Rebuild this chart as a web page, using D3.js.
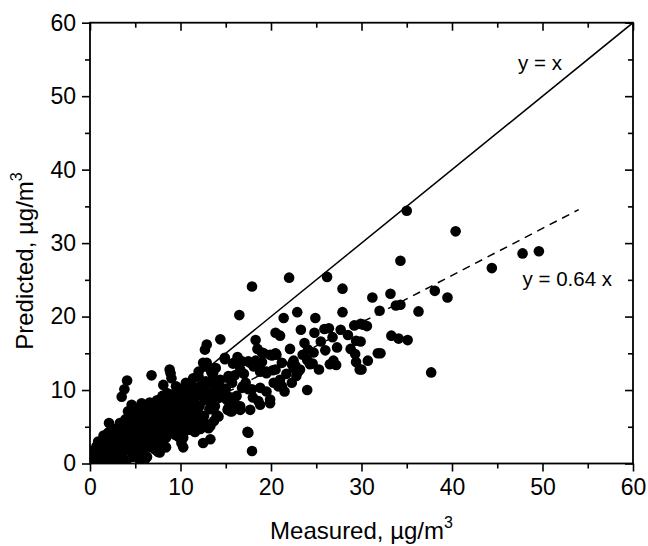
<!DOCTYPE html>
<html>
<head>
<meta charset="utf-8">
<script src="https://cdn.jsdelivr.net/npm/d3@7"></script>
<style>
  body { margin: 0; background: #fff; }
  svg text { font-family: "Liberation Sans", Arial, sans-serif; fill: #000; }
</style>
</head>
<body>
<svg id="chart" width="648" height="546"></svg>
<script>
// measured vs predicted pairs
var measured = [
  0.2,0.4,0.3,0.6,0.8,0.7,1.0,1.0,0.1,
  1.2,1.3,1.4,1.6,1.7,1.8,1.9,1.5,2.0,2.1,
  2.2,2.3,2.4,2.6,2.7,2.8,2.9,3.0,2.5,
  3.1,3.2,3.3,3.4,3.5,3.6,3.7,3.8,3.9,4.0,3.5,3.8,4.1,
  4.1,4.2,4.3,4.4,4.5,4.6,4.7,4.8,4.9,5.0,4.6,
  5.1,5.2,5.3,5.4,5.5,5.6,5.7,5.8,5.9,6.0,5.5,
  6.1,6.1,6.2,6.3,6.4,6.5,6.6,6.6,6.8,6.8,6.9,7.0,
  7.1,7.2,7.3,7.4,7.5,7.6,7.7,7.7,7.8,7.9,8.0,7.7,
  8.1,8.1,8.2,8.3,8.4,8.5,8.6,8.7,8.8,8.9,8.9,9.0,9.0,8.4,
  9.1,9.2,9.3,9.4,9.5,9.6,9.7,9.8,9.9,10.0,10.0,
  10.1,10.1,10.2,10.3,10.3,10.4,10.5,10.5,10.5,10.6,10.7,10.8,11.0,
  11.1,11.2,11.3,11.4,11.5,11.6,11.7,11.8,11.9,12.0,12.0,
  12.2,12.4,12.5,12.5,12.6,12.7,12.7,12.8,12.9,12.9,12.7,13.0,13.1,13.3,13.2,
  13.5,13.6,13.8,13.4,14.0,14.2,14.2,13.9,14.4,14.6,14.7,13.7,13.5,
  14.9,14.9,15.3,15.3,15.7,15.1,15.3,15.7,15.9,15.2,15.0,14.4,14.9,13.3,12.7,13.6,
  16.5,16.8,16.6,16.8,16.6,17.5,17.5,17.7,17.9,17.4,17.5,17.9,17.9,18.1,16.2,15.8,17.7,16.9,16.6,15.5,
  18.3,18.8,18.8,18.6,18.8,19.2,19.9,19.5,19.5,19.9,18.5,18.8,19.5,19.0,19.9,
  20.5,21.0,20.5,20.5,21.4,22.0,22.1,21.2,20.8,21.7,21.5,20.2,21.0,20.3,21.2,20.1,20.6,
  22.9,23.3,22.5,23.0,22.7,23.5,24.0,24.1,23.7,22.3,22.5,23.2,22.8,22.3,
  24.7,24.8,24.9,25.3,25.9,26.0,26.2,26.4,26.5,25.5,24.6,24.0,24.3,
  27.2,26.8,27.7,27.9,27.9,27.3,26.9,
  29.2,29.9,30.6,29.4,29.3,29.4,29.8,30.7,30.2,29.9,30.0,31.2,31.8,32.0,32.1,28.5,28.8,
  33.2,33.8,34.3,36.3,33.3,34.1,35.1,34.3,35.0,38.1,39.5,37.7,40.4,
  44.4,47.8,49.6,
  // extra points filling the dense core
  0.5,1.2,0.9,1.5,2.0,
  2.1,2.4,3.0,3.3,3.0,3.6,2.7,
  4.3,4.0,4.5,5.0,5.2,5.5,5.0,4.8,5.6,5.9,5.3,
  6.3,6.5,6.7,7.0,7.2,7.0,7.5,7.5,6.2,7.9,6.0,
  8.2,8.0,8.5,8.7,9.3,9.0,9.5,8.3,9.7,9.2,
  10.2,10.8,11.0,11.3,10.6,11.5,11.0,11.8,10.4,11.6,
  12.1,12.3,12.6,12.0,13.0,13.3,12.4,13.5,13.8,12.8,
  16.0,17.0,18.3,17.2,16.3,19.0,15.5,16.0,18.0
];
var predicted = [
  0.3,1.0,1.7,0.5,1.5,2.3,0.2,1.0,1.7,
  0.6,1.8,2.8,1.2,3.4,0.4,2.2,0.1,1.6,5.5,
  0.8,3.0,4.0,1.6,2.5,0.3,3.6,1.1,4.6,
  2.0,4.4,5.5,0.6,3.0,1.4,4.9,2.4,6.0,0.3,9.1,10.1,11.3,
  3.6,7.1,1.8,5.2,2.8,8.0,0.9,4.3,6.3,1.6,3.4,
  5.0,7.0,2.6,0.6,3.8,6.0,8.2,1.5,4.6,7.3,2.0,
  0.6,3.0,5.5,0.9,7.9,2.2,8.3,4.4,6.4,12.0,3.4,5.5,
  7.3,1.9,4.5,8.6,1.6,6.0,3.0,4.2,7.8,5.2,9.2,1.5,
  10.7,2.6,4.4,6.8,3.5,8.5,5.6,7.4,12.8,12.3,4.6,9.4,11.6,2.2,
  6.2,8.0,5.0,3.9,7.1,9.8,6.0,3.6,8.6,3.9,5.3,
  2.8,9.5,7.0,2.2,3.5,5.9,10.5,10.1,8.3,4.5,9.0,6.6,7.7,
  4.6,10.6,9.8,11.6,8.3,6.0,5.2,9.2,7.1,10.4,11.8,
  4.7,10.3,13.7,2.8,6.5,5.5,8.6,11.2,13.7,16.2,15.5,9.7,4.8,3.3,7.4,
  11.4,9.8,7.8,12.5,6.6,8.9,6.4,13.0,16.9,10.1,9.4,5.8,12.3,
  14.4,14.2,11.9,11.6,11.0,8.7,7.6,7.1,13.7,7.3,10.2,11.4,9.6,5.1,13.2,12.3,
  20.2,13.9,12.8,10.3,7.3,13.9,10.1,7.3,24.1,4.3,4.2,1.7,10.1,13.2,9.2,13.6,13.7,10.5,7.8,7.1,
  16.8,12.5,10.3,8.5,8.0,15.0,14.8,12.3,9.8,8.7,15.6,12.9,12.5,15.1,8.2,
  17.8,17.4,15.0,12.8,19.8,25.3,15.6,13.7,10.5,12.2,9.8,12.7,11.4,11.0,10.5,14.7,14.8,
  20.6,18.2,14.0,12.5,13.3,14.8,10.0,15.5,16.4,11.0,13.0,12.8,11.9,13.5,
  15.1,17.8,19.8,12.8,18.3,15.4,25.4,18.4,13.5,16.6,13.6,14.1,13.5,
  13.4,17.2,18.2,20.6,23.8,15.8,14.0,
  18.8,19.0,18.7,16.7,14.9,13.8,12.8,14.0,18.9,16.6,12.8,22.6,15.0,20.8,15.0,17.5,15.6,
  23.1,21.5,21.6,20.7,17.4,17.0,16.8,27.6,34.4,23.5,22.6,12.4,31.6,
  26.6,28.6,28.9,
  // extra points filling the dense core
  0.0,2.6,3.0,3.8,4.2,
  2.0,1.2,2.8,3.7,4.8,0.9,4.2,
  2.4,4.8,6.5,3.0,4.2,5.5,6.8,7.6,7.7,2.9,1.0,
  6.8,5.0,3.0,2.5,6.4,8.0,5.0,3.5,4.0,6.5,1.8,
  7.6,5.0,9.6,6.2,7.4,5.8,10.5,9.0,4.7,9.0,
  8.0,9.8,5.5,7.0,11.0,10.0,11.0,8.0,6.8,4.3,
  7.8,9.4,10.8,12.5,11.0,12.9,6.0,8.6,10.6,5.0,
  12.0,12.2,14.0,11.0,14.5,13.8,9.0,8.2,9.0
];

var xTicks = [0, 10, 20, 30, 40, 50, 60];
var yTicks = [0, 10, 20, 30, 40, 50, 60];
var minorTicks = [5, 15, 25, 35, 45, 55];
var slope = 0.64;
var fitEnd = 54;

var svg = d3.select("#chart");
var margin = {left: 90, right: 15, top: 22.7, bottom: 82.5};
var W = 648, H = 546;

var x = d3.scaleLinear().domain([0, 60]).range([margin.left, W - margin.right]);
var y = d3.scaleLinear().domain([0, 60]).range([H - margin.bottom, margin.top]);

var points = measured.map(function(m, i) { return {x: m, y: predicted[i]}; });

// clip so the dots stay inside the frame
svg.append("clipPath").attr("id", "clip")
  .append("rect")
  .attr("x", x(0)).attr("y", y(60))
  .attr("width", x(60) - x(0)).attr("height", y(0) - y(60));

var plot = svg.append("g").attr("clip-path", "url(#clip)");

plot.selectAll("circle")
  .data(points)
  .enter()
  .append("circle")
  .attr("cx", d => x(d.x))
  .attr("cy", d => y(d.y))
  .attr("r", 5.3)
  .attr("fill", "#000");

// y = x
plot.append("line")
  .attr("x1", x(0)).attr("y1", y(0))
  .attr("x2", x(60)).attr("y2", y(60))
  .attr("stroke", "#000").attr("stroke-width", 1.5);

// y = 0.64 x
plot.append("line")
  .attr("x1", x(0)).attr("y1", y(0))
  .attr("x2", x(fitEnd)).attr("y2", y(slope * fitEnd))
  .attr("stroke", "#000").attr("stroke-width", 1.5)
  .attr("stroke-dasharray", "8,6");

// axes
function styleAxis(g, showText) {
  g.select(".domain").remove();
  g.selectAll(".tick line").attr("stroke", "#000").attr("stroke-width", 1.6);
  if (showText) {
    g.selectAll(".tick text").attr("font-size", 23).attr("fill", "#000");
  } else {
    g.selectAll(".tick text").remove();
  }
}

var bottom = H - margin.bottom;

svg.append("g").attr("transform", "translate(0," + bottom + ")")
  .call(d3.axisBottom(x).tickValues(xTicks).tickSize(8).tickPadding(7).tickFormat(d3.format("d")))
  .call(g => styleAxis(g, true));
svg.append("g").attr("transform", "translate(0," + bottom + ")")
  .call(d3.axisBottom(x).tickValues(minorTicks).tickSize(5))
  .call(g => styleAxis(g, false));

svg.append("g").attr("transform", "translate(" + margin.left + ",0)")
  .call(d3.axisLeft(y).tickValues(yTicks).tickSize(8).tickPadding(6).tickFormat(d3.format("d")))
  .call(g => styleAxis(g, true));
svg.append("g").attr("transform", "translate(" + margin.left + ",0)")
  .call(d3.axisLeft(y).tickValues(minorTicks).tickSize(5))
  .call(g => styleAxis(g, false));

// mirror axes, ticks point inward
svg.append("g").attr("transform", "translate(0," + margin.top + ")")
  .call(d3.axisTop(x).tickValues(xTicks).tickSize(-8))
  .call(g => styleAxis(g, false));
svg.append("g").attr("transform", "translate(0," + margin.top + ")")
  .call(d3.axisTop(x).tickValues(minorTicks).tickSize(-5))
  .call(g => styleAxis(g, false));
svg.append("g").attr("transform", "translate(" + (W - margin.right) + ",0)")
  .call(d3.axisRight(y).tickValues(yTicks).tickSize(-8))
  .call(g => styleAxis(g, false));
svg.append("g").attr("transform", "translate(" + (W - margin.right) + ",0)")
  .call(d3.axisRight(y).tickValues(minorTicks).tickSize(-5))
  .call(g => styleAxis(g, false));

// frame
svg.append("rect")
  .attr("x", x(0)).attr("y", y(60))
  .attr("width", x(60) - x(0)).attr("height", y(0) - y(60))
  .attr("fill", "none").attr("stroke", "#000").attr("stroke-width", 1.8);

// line labels
svg.append("text").attr("x", x(47.3)).attr("y", y(53.5))
  .attr("font-size", 20.5).text("y = x");
svg.append("text").attr("x", x(47.8)).attr("y", y(24.1))
  .attr("font-size", 20.5).text("y = 0.64 x");

// axis titles
var xt = svg.append("text")
  .attr("x", (x(0) + x(60)) / 2).attr("y", 539)
  .attr("text-anchor", "middle").attr("font-size", 24);
xt.append("tspan").text("Measured, µg/m");
xt.append("tspan").attr("dy", -11).attr("font-size", 16).text("3");

var yt = svg.append("text")
  .attr("transform", "translate(33,261) rotate(-90)")
  .attr("text-anchor", "middle").attr("font-size", 24);
yt.append("tspan").text("Predicted, µg/m");
yt.append("tspan").attr("dy", -11).attr("font-size", 16).text("3");
</script>
</body>
</html>
